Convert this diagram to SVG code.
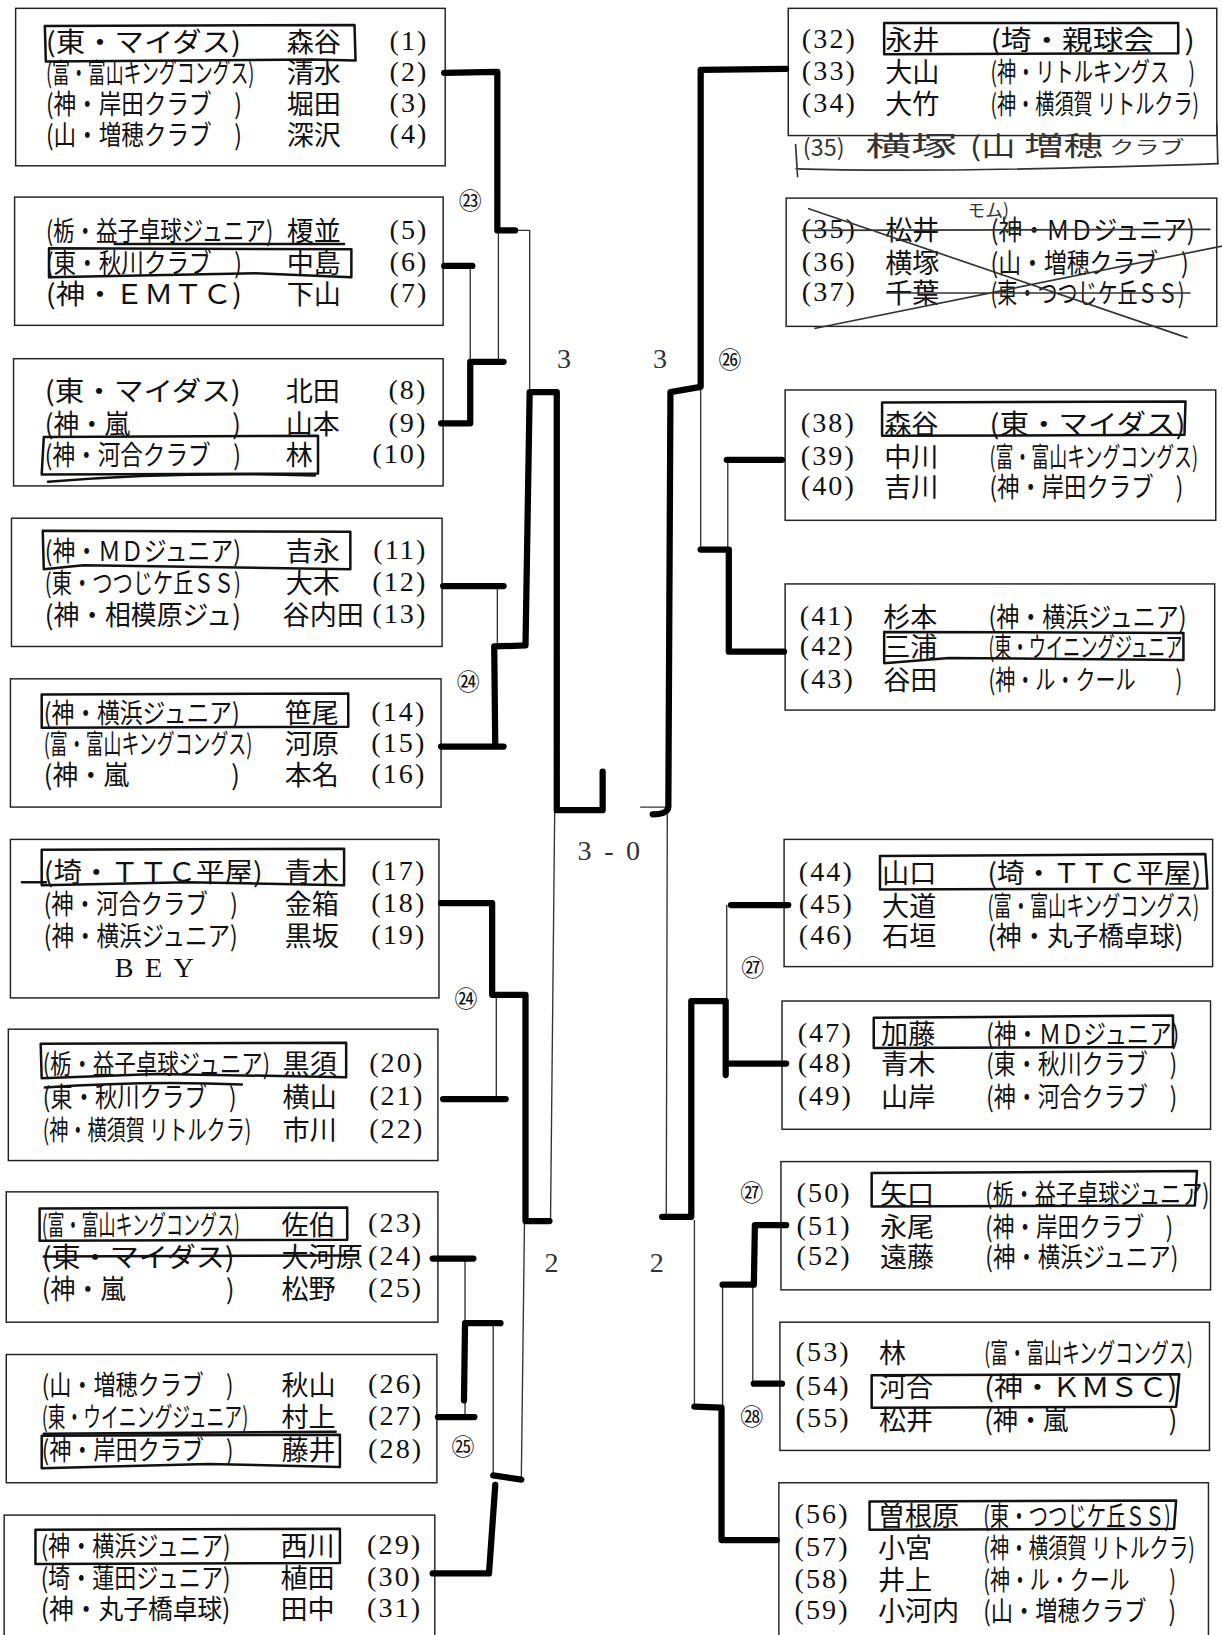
<svg xmlns="http://www.w3.org/2000/svg" width="1222" height="1635" viewBox="0 0 1222 1635">
<style>
.bx{fill:none;stroke:#222;stroke-width:1.4}
.hb{fill:none;stroke:#111;stroke-width:2.4;stroke-linejoin:round;stroke-linecap:round}
.tk{fill:none;stroke:#000;stroke-width:6;stroke-linecap:round;stroke-linejoin:round}
.tn{fill:none;stroke:#333;stroke-width:1.3}
.t{font-family:"Noto Sans CJK JP","Liberation Sans",sans-serif;font-size:26px;fill:#111}
.q65{font-size:16.9px}
.q72{font-size:18.7px}
.q78{font-size:20.3px}
.q83{font-size:21.6px}
.q93{font-size:24.2px}
.n{font-family:"Liberation Serif","Noto Sans CJK JP",serif;font-size:27px;fill:#111;letter-spacing:2px}
.c{font-family:"Noto Sans CJK JP",sans-serif;font-size:22px;fill:#111}
.s{font-family:"Liberation Serif",serif;font-size:27px;fill:#333}
.hw{font-family:"Noto Sans CJK JP",sans-serif;fill:#333}
</style>
<rect width="1222" height="1635" fill="#fff"/>
<g transform="scale(1.04266,1.04273)">

<!-- LEFT COLUMN -->
<g id="box-A">
<rect class="bx" x="15" y="8" width="412" height="151"/>
<text class="t" x="44" y="50" textLength="187" lengthAdjust="spacingAndGlyphs">(東・マイダス)</text><text class="t" x="275" y="50">森谷</text><text class="n" x="411" y="48" text-anchor="end">(1)</text>
<text class="t q65" transform="translate(44,80) scale(1,1.538)" textLength="200" lengthAdjust="spacingAndGlyphs">(富・富山キングコングス)</text><text class="t" x="275" y="80">清水</text><text class="n" x="411" y="78" text-anchor="end">(2)</text>
<text class="t q83" transform="translate(44,109) scale(1,1.204)" textLength="188" lengthAdjust="spacingAndGlyphs">(神・岸田クラブ　)</text><text class="t" x="275" y="109">堀田</text><text class="n" x="411" y="107" text-anchor="end">(3)</text>
<text class="t q83" transform="translate(44,139) scale(1,1.204)" textLength="188" lengthAdjust="spacingAndGlyphs">(山・増穂クラブ　)</text><text class="t" x="275" y="139">深沢</text><text class="n" x="411" y="137" text-anchor="end">(4)</text>
<path class="hb" d="M43,25 L340,24 L341,58 L300,57 L44,59 Z"/>
</g>

<g id="box-B">
<rect class="bx" x="14" y="189" width="411" height="123"/>
<text class="t q78" transform="translate(44,231) scale(1,1.282)" textLength="218" lengthAdjust="spacingAndGlyphs">(栃・益子卓球ジュニア)</text><text class="t" x="275" y="231">榎並</text><text class="n" x="411" y="229" text-anchor="end">(5)</text>
<text class="t q83" transform="translate(44,262) scale(1,1.204)" textLength="188" lengthAdjust="spacingAndGlyphs">(東・秋川クラブ　)</text><text class="t" x="275" y="262">中島</text><text class="n" x="411" y="260" text-anchor="end">(6)</text>
<text class="t" x="44" y="292" textLength="188" lengthAdjust="spacingAndGlyphs">(神・ＥＭＴＣ)</text><text class="t" x="275" y="292">下山</text><text class="n" x="411" y="290" text-anchor="end">(7)</text>
<path class="hb" d="M110,234 L330,234"/>
<path class="hb" d="M47,238 L337,239 L337,266 L245,262 L47,266 Z"/>
</g>

<g id="box-C">
<rect class="bx" x="13" y="344" width="412" height="122"/>
<text class="t" x="43" y="385" textLength="188" lengthAdjust="spacingAndGlyphs">(東・マイダス)</text><text class="t" x="274" y="385">北田</text><text class="n" x="410" y="383" text-anchor="end">(8)</text>
<text class="t q93" transform="translate(43,416) scale(1,1.075)" textLength="188" lengthAdjust="spacingAndGlyphs">(神・嵐　　　　)</text><text class="t" x="274" y="416">山本</text><text class="n" x="410" y="414" text-anchor="end">(9)</text>
<text class="t q83" transform="translate(43,446) scale(1,1.204)" textLength="188" lengthAdjust="spacingAndGlyphs">(神・河合クラブ　)</text><text class="t" x="274" y="446">林</text><text class="n" x="410" y="444" text-anchor="end">(10)</text>
<path class="hb" d="M42,419 L305,418 L305,454 L40,455 Z"/>
<path class="hb" d="M46,462 Q170,452 302,456"/>
</g>

<g id="box-D">
<rect class="bx" x="11" y="497" width="413" height="123"/>
<text class="t q83" transform="translate(43,538) scale(1,1.204)" textLength="188" lengthAdjust="spacingAndGlyphs">(神・ＭＤジュニア)</text><text class="t" x="274" y="538">吉永</text><text class="n" x="410" y="536" text-anchor="end">(11)</text>
<text class="t q72" transform="translate(43,569) scale(1,1.389)" textLength="188" lengthAdjust="spacingAndGlyphs">(東・つつじケ丘ＳＳ)</text><text class="t" x="274" y="569">大木</text><text class="n" x="410" y="567" text-anchor="end">(12)</text>
<text class="t q93" transform="translate(43,599) scale(1,1.075)" textLength="188" lengthAdjust="spacingAndGlyphs">(神・相模原ジュ)</text><text class="t" x="271" y="599">谷内田</text><text class="n" x="410" y="597" text-anchor="end">(13)</text>
<path class="hb" d="M41,509 L336,510 L336,546 L80,542 L42,546 Z"/>
</g>

<g id="box-E">
<rect class="bx" x="10" y="651" width="413" height="123"/>
<text class="t q83" transform="translate(42,693) scale(1,1.204)" textLength="188" lengthAdjust="spacingAndGlyphs">(神・横浜ジュニア)</text><text class="t" x="273" y="693">笹尾</text><text class="n" x="409" y="691" text-anchor="end">(14)</text>
<text class="t q65" transform="translate(42,723) scale(1,1.538)" textLength="200" lengthAdjust="spacingAndGlyphs">(富・富山キングコングス)</text><text class="t" x="273" y="723">河原</text><text class="n" x="409" y="721" text-anchor="end">(15)</text>
<text class="t q93" transform="translate(42,753) scale(1,1.075)" textLength="188" lengthAdjust="spacingAndGlyphs">(神・嵐　　　　)</text><text class="t" x="273" y="753">本名</text><text class="n" x="409" y="751" text-anchor="end">(16)</text>
<path class="hb" d="M40,666 L334,665 L334,697 L40,698 Z"/>
</g>

<g id="box-F">
<rect class="bx" x="10" y="805" width="411" height="152"/>
<text class="t" x="42" y="846" textLength="210" lengthAdjust="spacingAndGlyphs">(埼・ＴＴＣ平屋)</text><text class="t" x="273" y="846">青木</text><text class="n" x="409" y="844" text-anchor="end">(17)</text>
<text class="t q83" transform="translate(42,877) scale(1,1.204)" textLength="186" lengthAdjust="spacingAndGlyphs">(神・河合クラブ　)</text><text class="t" x="273" y="877">金箱</text><text class="n" x="409" y="875" text-anchor="end">(18)</text>
<text class="t q83" transform="translate(42,907) scale(1,1.204)" textLength="186" lengthAdjust="spacingAndGlyphs">(神・横浜ジュニア)</text><text class="t" x="273" y="907">黒坂</text><text class="n" x="409" y="905" text-anchor="end">(19)</text>
<text class="n" x="110" y="937" textLength="76" lengthAdjust="spacing" style="letter-spacing:0">BEY</text>
<path class="hb" d="M40,815 L330,814 L330,849 L180,846 L40,849 Z M21,846 L44,846"/>
</g>

<g id="box-G">
<rect class="bx" x="8" y="987" width="412" height="126"/>
<text class="t q78" transform="translate(41,1030) scale(1,1.282)" textLength="218" lengthAdjust="spacingAndGlyphs">(栃・益子卓球ジュニア)</text><text class="t" x="271" y="1030">黒須</text><text class="n" x="407" y="1028" text-anchor="end">(20)</text>
<text class="t q83" transform="translate(41,1062) scale(1,1.204)" textLength="186" lengthAdjust="spacingAndGlyphs">(東・秋川クラブ　)</text><text class="t" x="271" y="1062">横山</text><text class="n" x="407" y="1060" text-anchor="end">(21)</text>
<text class="t q72" transform="translate(41,1093) scale(1,1.389)" textLength="200" lengthAdjust="spacingAndGlyphs">(神・横須賀 リトルクラ)</text><text class="t" x="271" y="1093">市川</text><text class="n" x="407" y="1091" text-anchor="end">(22)</text>
<path class="hb" d="M39,1001 L332,1000 L332,1033 L150,1030 L40,1034 Z"/>
<path class="hb" d="M43,1043 Q140,1036 232,1040"/>
</g>

<g id="box-H">
<rect class="bx" x="6" y="1143" width="414" height="125"/>
<text class="t q65" transform="translate(40,1184) scale(1,1.538)" textLength="190" lengthAdjust="spacingAndGlyphs">(富・富山キングコングス)</text><text class="t" x="270" y="1184">佐伯</text><text class="n" x="406" y="1182" text-anchor="end">(23)</text>
<text class="t" x="40" y="1215" textLength="185" lengthAdjust="spacingAndGlyphs">(東・マイダス)</text><text class="t" x="270" y="1215">大河原</text><text class="n" x="406" y="1213" text-anchor="end">(24)</text>
<text class="t q93" transform="translate(40,1246) scale(1,1.075)" textLength="185" lengthAdjust="spacingAndGlyphs">(神・嵐　　　　)</text><text class="t" x="270" y="1246">松野</text><text class="n" x="406" y="1244" text-anchor="end">(25)</text>
<path class="hb" d="M38,1159 L333,1158 L333,1189 L38,1190 Z"/>
<path class="hb" d="M42,1205 L341,1204"/>
</g>

<g id="box-I">
<rect class="bx" x="6" y="1299" width="413" height="123"/>
<text class="t q83" transform="translate(40,1338) scale(1,1.204)" textLength="184" lengthAdjust="spacingAndGlyphs">(山・増穂クラブ　)</text><text class="t" x="270" y="1338">秋山</text><text class="n" x="406" y="1336" text-anchor="end">(26)</text>
<text class="t q65" transform="translate(40,1369) scale(1,1.538)" textLength="198" lengthAdjust="spacingAndGlyphs">(東・ウイニングジュニア)</text><text class="t" x="270" y="1369">村上</text><text class="n" x="406" y="1367" text-anchor="end">(27)</text>
<text class="t q83" transform="translate(40,1400) scale(1,1.204)" textLength="184" lengthAdjust="spacingAndGlyphs">(神・岸田クラブ　)</text><text class="t" x="270" y="1400">藤井</text><text class="n" x="406" y="1398" text-anchor="end">(28)</text>
<path class="hb" d="M42,1375 L322,1373"/>
<path class="hb" d="M40,1377 L326,1376 L326,1407 L200,1404 L40,1408 Z"/>
</g>

<g id="box-J">
<rect class="bx" x="4" y="1453" width="413" height="130"/>
<text class="t q83" transform="translate(39,1492) scale(1,1.204)" textLength="182" lengthAdjust="spacingAndGlyphs">(神・横浜ジュニア)</text><text class="t" x="269" y="1492">西川</text><text class="n" x="405" y="1490" text-anchor="end">(29)</text>
<text class="t q83" transform="translate(39,1523) scale(1,1.204)" textLength="182" lengthAdjust="spacingAndGlyphs">(埼・蓮田ジュニア)</text><text class="t" x="269" y="1523">植田</text><text class="n" x="405" y="1521" text-anchor="end">(30)</text>
<text class="t q93" transform="translate(39,1553) scale(1,1.075)" textLength="182" lengthAdjust="spacingAndGlyphs">(神・丸子橋卓球)</text><text class="t" x="269" y="1553">田中</text><text class="n" x="405" y="1551" text-anchor="end">(31)</text>
<path class="hb" d="M34,1467 L326,1466 L326,1499 L34,1500 Z"/>
</g>

<!-- RIGHT COLUMN -->
<g id="box-K">
<rect class="bx" x="756" y="8" width="411" height="122"/>
<text class="n" x="769" y="46">(32)</text><text class="t" x="849" y="48">永井</text><text class="t" x="950" y="48" textLength="196" lengthAdjust="spacingAndGlyphs">(埼・親球会　)</text>
<text class="n" x="769" y="77">(33)</text><text class="t" x="849" y="79">大山</text><text class="t q72" transform="translate(950,79) scale(1,1.389)" textLength="196" lengthAdjust="spacingAndGlyphs">(神・リトルキングス　)</text>
<text class="n" x="769" y="107">(34)</text><text class="t" x="849" y="109">大竹</text><text class="t q72" transform="translate(950,109) scale(1,1.389)" textLength="200" lengthAdjust="spacingAndGlyphs">(神・横須賀 リトルクラ)</text>
<path class="hb" d="M848,22 L1130,22 L1130,51 L848,52 Z"/>
<text class="hw" x="770" y="150" font-size="22" textLength="40" lengthAdjust="spacingAndGlyphs">(35)</text>
<text class="hw" x="830" y="150" font-size="26" textLength="88" lengthAdjust="spacingAndGlyphs">横塚</text>
<text class="hw" x="930" y="150" font-size="26" textLength="44" lengthAdjust="spacingAndGlyphs">(山</text>
<text class="hw" x="982" y="150" font-size="26" textLength="76" lengthAdjust="spacingAndGlyphs">増穂</text>
<text class="hw" x="1064" y="148" font-size="17" textLength="72" lengthAdjust="spacingAndGlyphs">クラブ</text>
<path class="tn" d="M765,170 L763,138 M763,162 Q900,166 1169,157 M1167,118 L1168,158" style="stroke-width:1.6"/>
</g>

<g id="box-L">
<rect class="bx" x="754" y="190" width="413" height="123"/>
<text class="n" x="769" y="228">(35)</text><text class="t" x="849" y="230">松井</text><text class="t q83" transform="translate(950,230) scale(1,1.204)" textLength="196" lengthAdjust="spacingAndGlyphs">(神・ＭＤジュニア)</text>
<text class="n" x="769" y="260">(36)</text><text class="t" x="849" y="262">横塚</text><text class="t q83" transform="translate(950,262) scale(1,1.204)" textLength="190" lengthAdjust="spacingAndGlyphs">(山・増穂クラブ　)</text>
<text class="n" x="769" y="289">(37)</text><text class="t" x="849" y="291">千葉</text><text class="t q72" transform="translate(950,291) scale(1,1.389)" textLength="186" lengthAdjust="spacingAndGlyphs">(東・つつじケ丘ＳＳ)</text>
<path class="tn" d="M769,221 L1161,220 M850,281 L1142,281 M775,200 L1139,324 M781,315 L1172,236" style="stroke-width:1.6"/>
<text class="hw" x="928" y="208" font-size="17">モム)</text>
</g>

<g id="box-M">
<rect class="bx" x="753" y="374" width="413" height="125"/>
<text class="n" x="768" y="414">(38)</text><text class="t" x="848" y="416">森谷</text><text class="t" x="949" y="416" textLength="188" lengthAdjust="spacingAndGlyphs">(東・マイダス)</text>
<text class="n" x="768" y="446">(39)</text><text class="t" x="848" y="448">中川</text><text class="t q65" transform="translate(949,448) scale(1,1.538)" textLength="200" lengthAdjust="spacingAndGlyphs">(富・富山キングコングス)</text>
<text class="n" x="768" y="475">(40)</text><text class="t" x="848" y="477">吉川</text><text class="t q83" transform="translate(949,477) scale(1,1.204)" textLength="186" lengthAdjust="spacingAndGlyphs">(神・岸田クラブ　)</text>
<path class="hb" d="M846,386 L1137,385 L1136,417 L846,418 Z"/>
</g>

<g id="box-N">
<rect class="bx" x="753" y="560" width="412" height="121"/>
<text class="n" x="767" y="599">(41)</text><text class="t" x="847" y="601">杉本</text><text class="t q83" transform="translate(948,601) scale(1,1.204)" textLength="190" lengthAdjust="spacingAndGlyphs">(神・横浜ジュニア)</text>
<text class="n" x="767" y="628">(42)</text><text class="t" x="847" y="630">三浦</text><text class="t q65" transform="translate(948,630) scale(1,1.538)" textLength="186" lengthAdjust="spacingAndGlyphs">(東・ウイニングジュニア</text>
<text class="n" x="767" y="660">(43)</text><text class="t" x="847" y="662">谷田</text><text class="t q72" transform="translate(948,662) scale(1,1.389)" textLength="186" lengthAdjust="spacingAndGlyphs">(神・ル・クール　　)</text>
<path class="hb" d="M848,606 L1135,607 L1135,633 L910,631 L848,636 Z"/>
</g>

<g id="box-O">
<rect class="bx" x="752" y="805" width="411" height="122"/>
<text class="n" x="766" y="845">(44)</text><text class="t" x="846" y="847">山口</text><text class="t" x="947" y="847" textLength="205" lengthAdjust="spacingAndGlyphs">(埼・ＴＴＣ平屋)</text>
<text class="n" x="766" y="876">(45)</text><text class="t" x="846" y="878">大道</text><text class="t q65" transform="translate(947,878) scale(1,1.538)" textLength="203" lengthAdjust="spacingAndGlyphs">(富・富山キングコングス)</text>
<text class="n" x="766" y="905">(46)</text><text class="t" x="846" y="907">石垣</text><text class="t q93" transform="translate(947,907) scale(1,1.075)" textLength="188" lengthAdjust="spacingAndGlyphs">(神・丸子橋卓球)</text>
<path class="hb" d="M844,821 L1156,819 L1158,852 L844,853 Z"/>
</g>

<g id="box-P">
<rect class="bx" x="750" y="960" width="411" height="123"/>
<text class="n" x="765" y="999">(47)</text><text class="t" x="845" y="1001">加藤</text><text class="t q83" transform="translate(946,1001) scale(1,1.204)" textLength="185" lengthAdjust="spacingAndGlyphs">(神・ＭＤジュニア)</text>
<text class="n" x="765" y="1028">(48)</text><text class="t" x="845" y="1030">青木</text><text class="t q83" transform="translate(946,1030) scale(1,1.204)" textLength="183" lengthAdjust="spacingAndGlyphs">(東・秋川クラブ　)</text>
<text class="n" x="765" y="1060">(49)</text><text class="t" x="845" y="1062">山岸</text><text class="t q83" transform="translate(946,1062) scale(1,1.204)" textLength="183" lengthAdjust="spacingAndGlyphs">(神・河合クラブ　)</text>
<path class="hb" d="M838,976 L1125,974 L1125,1004 L838,1005 Z"/>
</g>

<g id="box-Q">
<rect class="bx" x="749" y="1114" width="412" height="123"/>
<text class="n" x="764" y="1153">(50)</text><text class="t" x="844" y="1155">矢口</text><text class="t q78" transform="translate(945,1155) scale(1,1.282)" textLength="215" lengthAdjust="spacingAndGlyphs">(栃・益子卓球ジュニア)</text>
<text class="n" x="764" y="1184">(51)</text><text class="t" x="844" y="1186">永尾</text><text class="t q78" transform="translate(945,1186) scale(1,1.282)" textLength="180" lengthAdjust="spacingAndGlyphs">(神・岸田クラブ　)</text>
<text class="n" x="764" y="1213">(52)</text><text class="t" x="844" y="1215">遠藤</text><text class="t q83" transform="translate(945,1215) scale(1,1.204)" textLength="185" lengthAdjust="spacingAndGlyphs">(神・横浜ジュニア)</text>
<path class="hb" d="M836,1125 L1148,1123 L1146,1156 L836,1157 Z"/>
</g>

<g id="box-R">
<rect class="bx" x="748" y="1268" width="412" height="123"/>
<text class="n" x="763" y="1305">(53)</text><text class="t" x="843" y="1307">林</text><text class="t q65" transform="translate(944,1307) scale(1,1.538)" textLength="200" lengthAdjust="spacingAndGlyphs">(富・富山キングコングス)</text>
<text class="n" x="763" y="1338">(54)</text><text class="t" x="843" y="1340">河合</text><text class="t" x="944" y="1340" textLength="185" lengthAdjust="spacingAndGlyphs">(神・ＫＭＳＣ)</text>
<text class="n" x="763" y="1369">(55)</text><text class="t" x="843" y="1371">松井</text><text class="t q93" transform="translate(944,1371) scale(1,1.075)" textLength="185" lengthAdjust="spacingAndGlyphs">(神・嵐　　　　)</text>
<path class="hb" d="M836,1319 L1131,1318 L1128,1349 L836,1350 Z"/>
</g>

<g id="box-S">
<rect class="bx" x="747" y="1422" width="412" height="160"/>
<text class="n" x="762" y="1461">(56)</text><text class="t" x="842" y="1463">曽根原</text><text class="t q72" transform="translate(943,1463) scale(1,1.389)" textLength="180" lengthAdjust="spacingAndGlyphs">(東・つつじケ丘ＳＳ)</text>
<text class="n" x="762" y="1492">(57)</text><text class="t" x="842" y="1494">小宮</text><text class="t q72" transform="translate(943,1494) scale(1,1.389)" textLength="203" lengthAdjust="spacingAndGlyphs">(神・横須賀 リトルクラ)</text>
<text class="n" x="762" y="1523">(58)</text><text class="t" x="842" y="1525">井上</text><text class="t q72" transform="translate(943,1525) scale(1,1.389)" textLength="185" lengthAdjust="spacingAndGlyphs">(神・ル・クール　　)</text>
<text class="n" x="762" y="1553">(59)</text><text class="t" x="842" y="1555">小河内</text><text class="t q83" transform="translate(943,1555) scale(1,1.204)" textLength="185" lengthAdjust="spacingAndGlyphs">(山・増穂クラブ　)</text>
<path class="hb" d="M834,1440 L1128,1439 L1126,1466 L834,1467 Z"/>
</g>

<!-- CONNECTORS -->
<g id="connectors">
<path class="tn" d="M494,221 L508,221 L508,376 M478,221 L478,347 M451,255 L451,347 M477,562 L477,620 M532,778 L528,1171 M476,954 L476,1054 M446,1207 L446,1359 M473,1269 L473,1416 M500,1418 L503,1173"/>
<path class="tk" d="M426,70 L477,69 L477,221 L494,221"/>
<path class="tk" d="M423,406 L451,406 L451,347 L483,347"/>
<path class="tk" d="M426,255 L453,255"/>
<path class="tk" d="M425,562 L483,562"/>
<path class="tk" d="M423,716 L483,716 M475,716 L474,620 L504,619 L508,376 L534,376 L534,777 L578,777 L578,740"/>
<path class="tk" d="M423,866 L472,866 L472,954 L504,954 L504,1171 L527,1171"/>
<path class="tk" d="M425,1054 L485,1054"/>
<path class="tk" d="M415,1207 L454,1207"/>
<path class="tk" d="M420,1359 L455,1359 M445,1343 L446,1269 L480,1269"/>
<path class="tk" d="M415,1509 L469,1509 L475,1424 M473,1415 L500,1419"/>

<path class="tn" d="M614,774 L641,774 M672,371 L672,527 M698,441 L698,527 M640,781 L639,1167 M697,868 L697,960 M666,1170 L666,1349 M722,1232 L722,1327 M693,1232 L693,1349"/>
<path class="tk" d="M754,66 L672,67 L672,371 L643,376 L641,774 Q640,781 626,781"/>
<path class="tk" d="M750,441 L697,441"/>
<path class="tk" d="M752,625 L699,625 L699,527 L672,527"/>
<path class="tk" d="M756,868 L701,868"/>
<path class="tk" d="M754,1020 L696,1020 M696,1031 L696,960 L663,960 L663,1167 L635,1167"/>
<path class="tk" d="M754,1175 L724,1175 L723,1232 L693,1232"/>
<path class="tk" d="M750,1327 L723,1327"/>
<path class="tk" d="M745,1477 L692,1477 L692,1350 L666,1349"/>
</g>

<!-- match numbers and scores -->
<g id="labels">
<text class="c" x="451" y="200" text-anchor="middle">㉓</text>
<text class="c" x="449" y="662" text-anchor="middle">㉔</text>
<text class="c" x="447" y="966" text-anchor="middle">㉔</text>
<text class="c" x="444" y="1395" text-anchor="middle">㉕</text>
<text class="c" x="700" y="353" text-anchor="middle">㉖</text>
<text class="c" x="722" y="936" text-anchor="middle">㉗</text>
<text class="c" x="721" y="1152" text-anchor="middle">㉗</text>
<text class="c" x="721" y="1367" text-anchor="middle">㉘</text>
<text class="s" x="541" y="353" text-anchor="middle">3</text>
<text class="s" x="633" y="353" text-anchor="middle">3</text>
<text class="s" x="554" y="825" textLength="60" lengthAdjust="spacing">3 - 0</text>
<text class="s" x="529" y="1220" text-anchor="middle">2</text>
<text class="s" x="630" y="1220" text-anchor="middle">2</text>
</g>
</g>
</svg>
